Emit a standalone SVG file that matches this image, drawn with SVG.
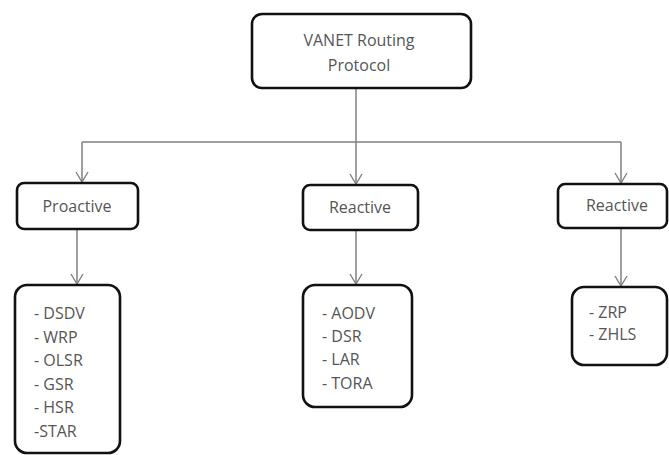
<svg xmlns="http://www.w3.org/2000/svg" width="669" height="455" viewBox="0 0 669 455">
<style>
.box{fill:#fff;stroke:#111;stroke-width:2.6}
.t{font-family:"Open Sans","Liberation Sans",sans-serif;font-size:16px;fill:#555}
.c{fill:none;stroke:#808080;stroke-width:1.5}
</style>
<defs>
<marker id="ah" markerWidth="12" markerHeight="14" refX="11" refY="7" orient="auto" markerUnits="userSpaceOnUse" viewBox="0 0 12 14">
<path d="M1,1 L11,7 L1,13" fill="none" stroke="#808080" stroke-width="1.4"/>
</marker>
</defs>
<rect width="669" height="455" fill="#fff"/>
<g id="connectors">
<line class="c" x1="356" y1="88" x2="356" y2="184" marker-end="url(#ah)"/>
<line class="c" x1="82" y1="142" x2="621" y2="142"/>
<line class="c" x1="82" y1="142" x2="82" y2="182" marker-end="url(#ah)"/>
<line class="c" x1="621" y1="142" x2="621" y2="183" marker-end="url(#ah)"/>
<line class="c" x1="77" y1="229" x2="77" y2="284" marker-end="url(#ah)"/>
<line class="c" x1="356" y1="230" x2="356" y2="284" marker-end="url(#ah)"/>
<line class="c" x1="621" y1="228" x2="621" y2="286" marker-end="url(#ah)"/>
</g>
<g id="root">
<rect class="box" x="252" y="14" width="219" height="74" rx="10"/>
<text class="t" x="359" y="46" text-anchor="middle">VANET Routing</text>
<text class="t" x="359" y="71" text-anchor="middle">Protocol</text>
</g>
<g id="proactive">
<rect class="box" x="17" y="183" width="121" height="46" rx="7"/>
<text class="t" x="77" y="212" text-anchor="middle">Proactive</text>
</g>
<g id="reactive1">
<rect class="box" x="303" y="185" width="115" height="45" rx="7"/>
<text class="t" x="360" y="213" text-anchor="middle">Reactive</text>
</g>
<g id="reactive2">
<rect class="box" x="558" y="184" width="109" height="44" rx="7"/>
<text class="t" x="617" y="211" text-anchor="middle">Reactive</text>
</g>
<g id="proactive-list">
<rect class="box" x="15" y="285" width="105" height="168" rx="12"/>
<text class="t" x="34" y="319">- DSDV</text>
<text class="t" x="34" y="343">- WRP</text>
<text class="t" x="34" y="366">- OLSR</text>
<text class="t" x="34" y="390">- GSR</text>
<text class="t" x="34" y="413">- HSR</text>
<text class="t" x="34" y="437">-STAR</text>
</g>
<g id="reactive-list">
<rect class="box" x="303" y="285" width="109" height="122" rx="12"/>
<text class="t" x="322" y="319">- AODV</text>
<text class="t" x="322" y="342">- DSR</text>
<text class="t" x="322" y="365">- LAR</text>
<text class="t" x="322" y="389">- TORA</text>
</g>
<g id="hybrid-list">
<rect class="box" x="572" y="287" width="95" height="78" rx="12"/>
<text class="t" x="589" y="318">- ZRP</text>
<text class="t" x="589" y="340">- ZHLS</text>
</g>
</svg>
